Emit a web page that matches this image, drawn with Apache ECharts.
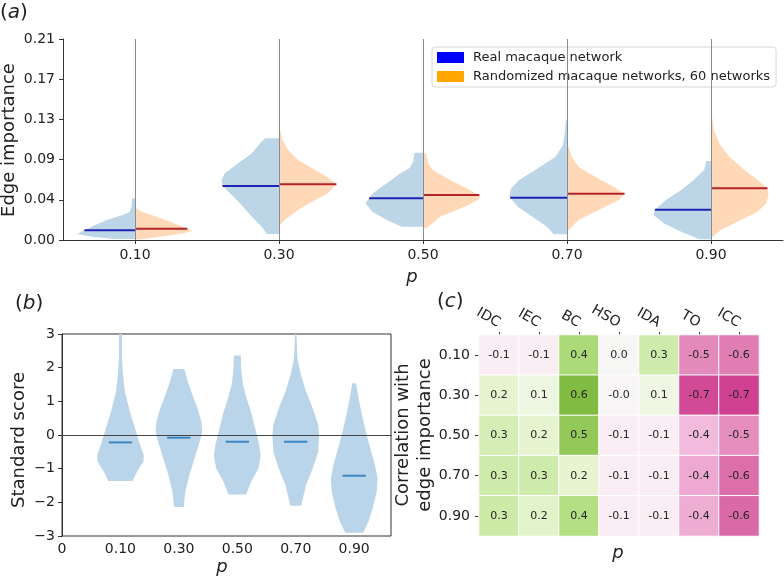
<!DOCTYPE html>
<html>
<head>
<meta charset="utf-8">
<script src="https://cdn.jsdelivr.net/npm/echarts@6/dist/echarts.min.js"></script>
<style>
  html, body { margin: 0; padding: 0; background: #fff; }
  #chart { width: 784px; height: 577px; }
</style>
</head>
<body>
<div id="chart"></div>
<script>
// ---- panel (a): split violins of edge importance ----
var pLabels = ['0.10', '0.30', '0.50', '0.70', '0.90'];
var edgeTicks = ['0.00', '0.04', '0.09', '0.13', '0.17', '0.21'];
// outlines as [value, relative half width], top to bottom
var realShapes = [
    [[0.0446, 0.05], [0.0357, 0.06], [0.0303, 0.09], [0.0267, 0.21], [0.0214, 0.49], [0.0160, 0.69], [0.0107, 0.87], [0.0064, 1.0], [0.0036, 0.75], [0.0010, 0.35]],
    [[0.1088, 0.24], [0.1034, 0.33], [0.0927, 0.47], [0.0820, 0.71], [0.0713, 0.94], [0.0642, 1.0], [0.0578, 0.98], [0.0499, 0.85], [0.0393, 0.68], [0.0250, 0.47], [0.0143, 0.30], [0.0064, 0.21]],
    [[0.0934, 0.15], [0.0838, 0.17], [0.0767, 0.24], [0.0706, 0.41], [0.0606, 0.63], [0.0499, 0.87], [0.0393, 1.0], [0.0303, 0.88], [0.0214, 0.63], [0.0143, 0.37]],
    [[0.1284, 0.02], [0.1141, 0.04], [0.1016, 0.07], [0.0891, 0.20], [0.0749, 0.55], [0.0642, 0.83], [0.0542, 0.98], [0.0463, 1.0], [0.0357, 0.86], [0.0250, 0.60], [0.0143, 0.35], [0.0061, 0.23]],
    [[0.0845, 0.08], [0.0749, 0.12], [0.0642, 0.30], [0.0535, 0.52], [0.0428, 0.78], [0.0321, 0.98], [0.0267, 1.0], [0.0178, 0.82], [0.0089, 0.52], [0.0007, 0.20]]
];
var randShapes = [
    [[0.0339, 0.02], [0.0303, 0.12], [0.0250, 0.38], [0.0196, 0.61], [0.0143, 0.83], [0.0096, 1.0], [0.0064, 0.78], [0.0036, 0.43], [0.0007, 0.09]],
    [[0.1177, 0.02], [0.1070, 0.06], [0.0963, 0.16], [0.0856, 0.33], [0.0749, 0.63], [0.0677, 0.83], [0.0599, 1.0], [0.0499, 0.85], [0.0428, 0.63], [0.0321, 0.33], [0.0214, 0.10], [0.0160, 0.02]],
    [[0.0927, 0.05], [0.0820, 0.09], [0.0749, 0.17], [0.0642, 0.47], [0.0553, 0.76], [0.0474, 1.0], [0.0428, 0.95], [0.0357, 0.73], [0.0250, 0.30], [0.0125, 0.06]],
    [[0.1016, 0.02], [0.0891, 0.08], [0.0784, 0.20], [0.0677, 0.49], [0.0570, 0.81], [0.0496, 1.0], [0.0428, 0.90], [0.0321, 0.55], [0.0214, 0.20], [0.0107, 0.03]],
    [[0.1355, 0.01], [0.1177, 0.05], [0.1034, 0.14], [0.0891, 0.32], [0.0749, 0.58], [0.0642, 0.81], [0.0553, 0.98], [0.0481, 1.0], [0.0393, 0.96], [0.0303, 0.81], [0.0214, 0.52], [0.0107, 0.17], [0.0029, 0.02]]
];
var realMedians = [0.0104, 0.0578, 0.0446, 0.0453, 0.0324];
var randMedians = [0.0121, 0.0596, 0.0481, 0.0496, 0.0553];

// ---- panel (b): standard score violins ----
var zTickLabels = ['0', '0.10', '0.30', '0.50', '0.70', '0.90'];
var zShapes = [
    [[3.4, 0.06], [2.3, 0.06], [1.79, 0.11], [1.29, 0.19], [0.89, 0.33], [0.60, 0.44], [0.30, 0.58], [0.00, 0.71], [-0.30, 0.84], [-0.60, 1.0], [-0.79, 0.98], [-1.09, 0.71], [-1.37, 0.52]],
    [[1.96, 0.23], [1.59, 0.38], [1.19, 0.58], [0.79, 0.80], [0.40, 0.96], [0.10, 1.0], [-0.15, 0.91], [-0.69, 0.67], [-1.19, 0.45], [-1.69, 0.27], [-2.14, 0.21]],
    [[2.36, 0.15], [1.99, 0.16], [1.49, 0.24], [1.09, 0.40], [0.60, 0.62], [0.10, 0.80], [-0.30, 0.94], [-0.60, 1.0], [-0.99, 0.91], [-1.39, 0.59], [-1.77, 0.38]],
    [[3.02, 0.03], [2.28, 0.07], [1.79, 0.22], [1.29, 0.44], [0.79, 0.73], [0.30, 0.96], [0.00, 1.0], [-0.50, 0.96], [-0.99, 0.73], [-1.49, 0.44], [-2.10, 0.23]],
    [[1.54, 0.08], [1.09, 0.19], [0.60, 0.33], [0.10, 0.50], [-0.40, 0.69], [-0.89, 0.89], [-1.29, 1.0], [-1.69, 0.96], [-2.18, 0.79], [-2.58, 0.61], [-2.90, 0.38]]
];
var zMedians = [-0.22, -0.08, -0.20, -0.20, -1.21];

// ---- panel (c): correlation heatmap ----
var measures = ['IDC', 'IEC', 'BC', 'HSO', 'IDA', 'TO', 'ICC'];
var corr = [
    [-0.09, -0.08, 0.44, 0.01, 0.30, -0.54, -0.58],
    [0.20, 0.12, 0.60, -0.02, 0.10, -0.70, -0.72],
    [0.27, 0.20, 0.53, -0.10, -0.09, -0.38, -0.53],
    [0.30, 0.30, 0.20, -0.10, -0.08, -0.44, -0.62],
    [0.31, 0.22, 0.41, -0.09, -0.09, -0.43, -0.63]
];
var PiYG = ['#8e0152', '#c51b7d', '#de77ae', '#f1b6da', '#fde0ef', '#f7f7f7', '#e6f5d0', '#b8e186', '#7fbc41', '#4d9221', '#276419'];

var FONT = 'DejaVu Sans';
var TXT = '#222';

function widthAt(shape, v) {
    for (var k = 0; k < shape.length - 1; k++) {
        var a = shape[k], b = shape[k + 1];
        if (v <= a[0] && v >= b[0]) {
            return a[1] + (b[1] - a[1]) * (a[0] - v) / (a[0] - b[0]);
        }
    }
    return 0;
}

// half violin for panel (a), side -1 = left, +1 = right
function halfViolin(shapes, medians, side, fill, lineColor) {
    return function (params, api) {
        var i = api.value(0);
        var shape = shapes[i];
        var cx = api.coord([i, 0])[0];
        var half = api.size([1, 0])[0] * 0.4;
        var pts = shape.map(function (d) {
            return [cx + side * d[1] * half, api.coord([i, d[0]])[1]];
        });
        pts.push([cx, api.coord([i, shape[shape.length - 1][0]])[1]]);
        pts.push([cx, api.coord([i, shape[0][0]])[1]]);
        var m = medians[i];
        var my = api.coord([i, m])[1];
        var mw = widthAt(shape, m) * half;
        return {
            type: 'group',
            children: [
                { type: 'polygon', shape: { points: pts }, style: { fill: fill } },
                { type: 'line', shape: { x1: cx, y1: my, x2: cx + side * mw, y2: my }, style: { stroke: lineColor, lineWidth: 2 } }
            ]
        };
    };
}

// full violin for panel (b)
function fullViolin(params, api) {
    var i = api.value(0);
    var shape = zShapes[i];
    var c = api.coord([i + 1, 0]);
    var half = api.size([0.4, 0])[0];
    var right = shape.map(function (d) {
        return [c[0] + d[1] * half, api.coord([i + 1, d[0]])[1]];
    });
    var left = shape.slice().reverse().map(function (d) {
        return [c[0] - d[1] * half, api.coord([i + 1, d[0]])[1]];
    });
    var my = api.coord([i + 1, zMedians[i]])[1];
    var mw = api.size([0.2, 0])[0];
    return {
        type: 'group',
        children: [
            { type: 'polygon', shape: { points: right.concat(left) }, style: { fill: '#bad4ea' } },
            { type: 'line', shape: { x1: c[0] - mw, y1: my, x2: c[0] + mw, y2: my }, style: { stroke: '#3b86c4', lineWidth: 2 } }
        ]
    };
}

var heatData = [];
corr.forEach(function (row, r) {
    row.forEach(function (v, c) { heatData.push([c, r, v]); });
});
var idx = pLabels.map(function (d, i) { return [i]; });

var axisLine = { show: true, lineStyle: { color: '#333', width: 1 } };
var tick = { show: true, length: 4, lineStyle: { color: '#333' } };
var lab = { fontSize: 14, color: TXT, fontFamily: FONT };

var chart = echarts.init(document.getElementById('chart'));
chart.setOption({
    animation: false,
    textStyle: { fontFamily: FONT },
    grid: [
        { left: 63, top: 39, width: 720, height: 201 },
        { left: 62, top: 334, width: 329, height: 202, show: true, borderColor: '#333', borderWidth: 1 },
        { left: 479, top: 335, width: 280, height: 201 }
    ],
    legend: {
        left: 432, top: 47, orient: 'vertical', selectedMode: false,
        itemWidth: 27, itemHeight: 11, itemGap: 6,
        padding: [4, 6, 4, 5],
        backgroundColor: 'rgba(255,255,255,0.8)', borderColor: '#d6d6d6', borderWidth: 1, borderRadius: 3,
        textStyle: { fontSize: 13, color: TXT, fontFamily: FONT, padding: [0, 0, 0, 4] },
        data: [
            { name: 'Real macaque network', icon: 'rect', itemStyle: { color: '#0000ff' } },
            { name: 'Randomized macaque networks, 60 networks', icon: 'rect', itemStyle: { color: '#ffa500' } }
        ]
    },
    visualMap: {
        show: false, seriesIndex: 4, dimension: 2, min: -1, max: 1,
        inRange: { color: PiYG }
    },
    xAxis: [
        {
            gridIndex: 0, type: 'category', data: pLabels,
            axisLine: axisLine, axisTick: { show: true, length: 4, alignWithLabel: true, lineStyle: { color: '#333' } },
            axisLabel: Object.assign({ margin: 8 }, lab), splitLine: { show: false }
        },
        {
            gridIndex: 1, type: 'value', min: 0, max: 5.63, interval: 1,
            axisLine: axisLine, axisTick: Object.assign({ customValues: [0, 1, 2, 3, 4, 5] }, tick),
            splitLine: { show: false },
            axisLabel: Object.assign({
                margin: 6, customValues: [0, 1, 2, 3, 4, 5],
                formatter: function (v) { return zTickLabels[v] || ''; }
            }, lab)
        },
        {
            gridIndex: 2, type: 'category', data: measures, position: 'top',
            axisLine: { show: false }, axisTick: { show: true, length: 3, alignWithLabel: true, lineStyle: { color: '#333' } },
            axisLabel: Object.assign({ rotate: 30, margin: 11 }, lab), splitLine: { show: false }
        }
    ],
    yAxis: [
        {
            gridIndex: 0, type: 'value', min: 0, max: 0.215, interval: 0.043,
            axisLine: axisLine, axisTick: tick, splitLine: { show: false },
            axisLabel: Object.assign({
                margin: 8,
                formatter: function (v) { return edgeTicks[Math.round(v / 0.043)]; }
            }, lab)
        },
        {
            gridIndex: 1, type: 'value', min: -3, max: 3, interval: 1,
            axisLine: axisLine, axisTick: tick, splitLine: { show: false },
            axisLabel: Object.assign({
                margin: 7,
                formatter: function (v) { return v < 0 ? '\u2212' + (-v) : String(v); }
            }, lab)
        },
        {
            gridIndex: 2, type: 'category', data: pLabels, inverse: true,
            axisLine: { show: false }, axisTick: { show: true, length: 4, alignWithLabel: true, lineStyle: { color: '#333' } },
            axisLabel: Object.assign({ margin: 9 }, lab), splitLine: { show: false }
        }
    ],
    series: [
        {
            name: 'Real macaque network', type: 'custom', xAxisIndex: 0, yAxisIndex: 0, z: 2,
            renderItem: halfViolin(realShapes, realMedians, -1, '#bcd6e8', '#2222b4'),
            data: idx, encode: { x: 0 }
        },
        {
            name: 'Randomized macaque networks, 60 networks', type: 'custom', xAxisIndex: 0, yAxisIndex: 0, z: 2,
            renderItem: halfViolin(randShapes, randMedians, 1, '#ffd9b7', '#b5232a'),
            data: idx, encode: { x: 0 }
        },
        {
            type: 'line', xAxisIndex: 0, yAxisIndex: 0, data: [], z: 3,
            markLine: {
                symbol: 'none', silent: true, label: { show: false },
                lineStyle: { color: '#8c8c8c', width: 1, type: 'solid' },
                data: pLabels.map(function (p) { return { xAxis: p }; })
            }
        },
        {
            type: 'custom', xAxisIndex: 1, yAxisIndex: 1, clip: true, z: 2,
            renderItem: fullViolin, data: idx, encode: { x: 0 },
            markLine: {
                symbol: 'none', silent: true, label: { show: false },
                lineStyle: { color: '#444', width: 1, type: 'solid' },
                data: [{ yAxis: 0 }]
            }
        },
        {
            type: 'heatmap', xAxisIndex: 2, yAxisIndex: 2, data: heatData,
            itemStyle: { borderColor: '#fff', borderWidth: 1 },
            label: {
                show: true, fontSize: 11, color: '#262626', fontFamily: FONT,
                formatter: function (p) { return p.value[2].toFixed(1); }
            }
        }
    ],
    graphic: [
        { type: 'text', x: 0, y: 13, style: { text: '({i|a})', rich: { i: { fontStyle: 'italic', fontSize: 20, fontFamily: FONT, fill: TXT } }, fontSize: 20, fontFamily: FONT, fill: TXT, verticalAlign: 'middle' } },
        { type: 'text', x: 15, y: 304, style: { text: '({i|b})', rich: { i: { fontStyle: 'italic', fontSize: 20, fontFamily: FONT, fill: TXT } }, fontSize: 20, fontFamily: FONT, fill: TXT, verticalAlign: 'middle' } },
        { type: 'text', x: 437, y: 302, style: { text: '({i|c})', rich: { i: { fontStyle: 'italic', fontSize: 20, fontFamily: FONT, fill: TXT } }, fontSize: 20, fontFamily: FONT, fill: TXT, verticalAlign: 'middle' } },
        { type: 'text', x: 9, y: 140, rotation: Math.PI / 2, style: { text: 'Edge importance', fontSize: 18, fontFamily: FONT, fill: TXT, align: 'center', verticalAlign: 'middle' } },
        { type: 'text', x: 19, y: 440, rotation: Math.PI / 2, style: { text: 'Standard score', fontSize: 18, fontFamily: FONT, fill: TXT, align: 'center', verticalAlign: 'middle' } },
        { type: 'text', x: 414, y: 435, rotation: Math.PI / 2, style: { text: 'Correlation with\nedge importance', fontSize: 18, lineHeight: 22, fontFamily: FONT, fill: TXT, align: 'center', verticalAlign: 'middle' } },
        { type: 'text', x: 412, y: 277, style: { text: 'p', fontSize: 18, fontStyle: 'italic', fontFamily: FONT, fill: TXT, align: 'center', verticalAlign: 'middle' } },
        { type: 'text', x: 222, y: 567, style: { text: 'p', fontSize: 18, fontStyle: 'italic', fontFamily: FONT, fill: TXT, align: 'center', verticalAlign: 'middle' } },
        { type: 'text', x: 618, y: 553, style: { text: 'p', fontSize: 18, fontStyle: 'italic', fontFamily: FONT, fill: TXT, align: 'center', verticalAlign: 'middle' } }
    ]
});
</script>
</body>
</html>
